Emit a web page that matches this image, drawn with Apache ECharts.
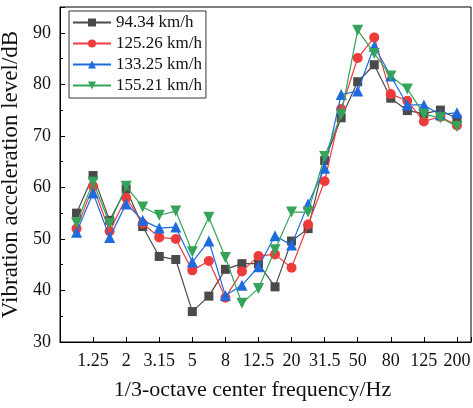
<!DOCTYPE html>
<html>
<head>
<meta charset="utf-8">
<script src="https://cdn.jsdelivr.net/npm/echarts@6/dist/echarts.min.js"></script>
<style>
html,body{margin:0;padding:0;background:#fff;}
#chart{width:473px;height:408px;}
</style>
</head>
<body>
<div id="chart"></div>
<script>
var categories = ['1','1.25','1.6','2','2.5','3.15','4','5','6.3','8','10','12.5','16','20','25','31.5','40','50','63','80','100','125','160','200'];
var seriesNames = ['94.34 km/h','125.26 km/h','133.25 km/h','155.21 km/h'];
var s94 = [55.0,62.3,53.6,59.7,52.4,46.6,46.0,35.9,38.9,44.1,45.2,45.2,40.7,49.6,52.0,65.2,73.5,80.5,83.8,77.3,74.9,74.3,75.0,73.3];
var s125 = [52.0,60.2,51.5,58.0,53.0,50.3,50.0,43.9,45.7,38.6,43.7,46.7,47.0,44.4,52.8,61.2,75.2,85.1,89.1,78.1,76.8,72.8,73.7,72.0];
var s133 = [51.3,58.9,50.3,56.8,53.6,52.1,52.3,45.5,49.6,39.0,41.0,44.6,50.6,48.8,56.8,63.7,78.0,78.7,87.4,81.6,76.0,76.0,74.1,74.5];
var s155 = [53.1,61.0,53.0,60.2,56.2,54.6,55.4,47.5,54.2,46.4,37.5,40.4,47.9,55.2,55.2,66.0,74.1,90.5,86.0,81.6,79.1,74.2,73.5,71.8];
var yTicks = [30,40,50,60,70,80,90];

var colors = ['#4a4a4a','#ee3b3b','#1e6be0','#35a35a'];
var symbols = ['rect','circle','triangle','triangle'];
var rotates = [0,0,0,180];
var sizes = [9,10,11,11];
var values = [s94,s125,s133,s155];
var font = '"Liberation Serif","Times New Roman",serif';

var series = values.map(function(v,k){
  return {
    name: seriesNames[k],
    type: 'line',
    data: v.map(function(y,i){return [i,y];}),
    symbol: symbols[k],
    symbolSize: sizes[k],
    symbolRotate: rotates[k],
    lineStyle: {color: colors[k], width: 1.2},
    itemStyle: {color: colors[k]},
    z: 2 + k
  };
});

var chart = echarts.init(document.getElementById('chart'), null, {renderer:'canvas'});
chart.setOption({
  animation: false,
  backgroundColor: '#fff',
  textStyle: {fontFamily: font},
  grid: {left: 60, right: 2, top: 7, bottom: 66, show: true, borderColor: '#000', borderWidth: 1,
         containLabel: false, outerBoundsMode: 'none'},
  legend: {
    orient: 'vertical',
    left: 69, top: 11,
    borderColor: '#333', borderWidth: 1,
    padding: [3, 4, 4, 3],
    itemGap: 4,
    itemWidth: 38, itemHeight: 10,
    textStyle: {fontFamily: font, fontSize: 17, color: '#111'},
    data: seriesNames
  },
  xAxis: {
    type: 'value',
    min: -1, max: 23.85, interval: 2,
    name: '1/3-octave center frequency/Hz',
    nameLocation: 'middle', nameGap: 37,
    nameTextStyle: {fontFamily: font, fontSize: 22, color: '#111', padding: [0, 26, 0, 0]},
    axisLine: {onZero: false, lineStyle: {color: '#000', width: 1}},
    axisTick: {inside: true, length: 5, lineStyle: {color: '#000'}},
    splitLine: {show: false},
    axisLabel: {
      fontFamily: font, fontSize: 18, color: '#111', margin: 10,
      showMinLabel: true, showMaxLabel: true, hideOverlap: false,
      formatter: function(v){
        var i = Math.round(v);
        if (Math.abs(v - i) > 1e-6 || i < 0 || i >= categories.length) return '';
        return categories[i];
      }
    }
  },
  yAxis: {
    type: 'value',
    min: 30, max: 95, interval: 10,
    name: 'Vibration acceleration level/dB',
    nameLocation: 'middle', nameGap: 26,
    nameTextStyle: {fontFamily: font, fontSize: 23, color: '#111'},
    axisLine: {show: true, onZero: false, lineStyle: {color: '#000', width: 1}},
    axisTick: {inside: true, length: 5, lineStyle: {color: '#000'}},
    minorTick: {show: true, splitNumber: 2, length: 3, lineStyle: {color: '#000'}},
    splitLine: {show: false},
    axisLabel: {
      fontFamily: font, fontSize: 18, color: '#111', margin: 9,
      formatter: function(v){ return yTicks.indexOf(v) >= 0 ? String(v) : ''; }
    }
  },
  series: series
});
</script>
</body>
</html>
